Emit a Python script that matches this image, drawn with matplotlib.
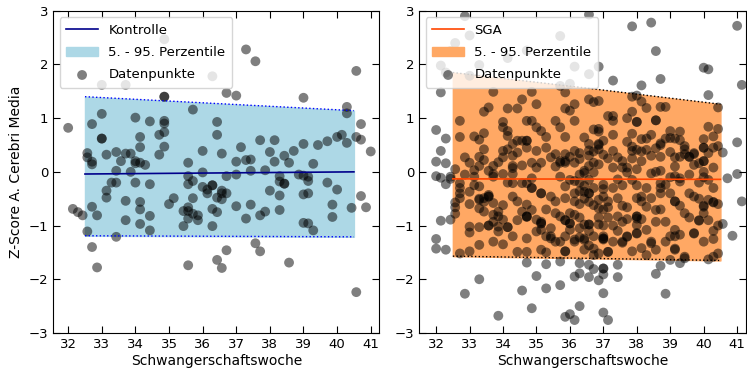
import numpy as np
import matplotlib
matplotlib.use("Agg")
import matplotlib.pyplot as plt

# percentile bands (Schwangerschaftswoche)
band_x = [32.5, 36.5, 40.5]
ctrl_mean = [-0.04, -0.02, 0.0]
ctrl_p5 = [-1.19, -1.20, -1.21]
ctrl_p95 = [1.40, 1.27, 1.14]
sga_mean = [-0.13, -0.135, -0.14]
sga_p5 = [-1.57, -1.61, -1.65]
sga_p95 = [1.85, 1.56, 1.26]

# Kontrolle data points (week, z-score)
ctrl_pts = [
    (32.0, 0.82), (32.14, -0.69), (32.29, -0.75), (32.43, -0.81),
    (32.57, 0.35), (32.57, 0.27), (32.57, -1.11),
    (32.71, 0.89), (32.71, 0.19), (32.71, 0.14), (32.71, -0.65), (32.71, -1.40),
    (32.86, -0.81), (32.86, -1.78),
    (33.0, 1.62), (33.0, 1.08), (33.0, 0.62), (33.0, 0.62),
    (33.14, 0.32), (33.14, -0.35), (33.14, -0.48), (33.29, -0.2),
    (33.43, 0.37), (33.43, 0.02), (33.43, -0.2), (33.43, -1.21), (33.57, 0.2),
    (33.71, 1.62), (33.71, 0.34), (33.71, -0.54), (33.71, -0.9),
    (33.86, 0.34), (33.86, 0.0),
    (34.0, 1.01), (34.0, 0.2), (34.0, 0.16), (34.0, -0.2),
    (34.14, 0.65), (34.14, 0.46), (34.14, 0.17), (34.14, -0.56), (34.14, -0.7), (34.14, -0.97),
    (34.29, 0.13),
    (34.43, 0.94), (34.43, -0.23), (34.43, -0.82), (34.43, -1.09),
    (34.71, 0.69), (34.71, 0.32),
    (34.86, 2.47), (34.86, 1.40), (34.86, 1.40), (34.86, 0.95), (34.86, 0.90), (34.86, 0.74), (34.86, 0.47),
    (35.0, -0.60), (35.14, -0.49), (35.43, -0.73), (35.43, -1.01),
    (35.57, 0.17), (35.57, -0.08), (35.57, -0.23), (35.57, -0.66), (35.57, -0.73), (35.57, -0.87), (35.57, -1.74),
    (35.71, 1.16), (35.71, -0.17), (35.71, -0.49), (35.71, -0.78),
    (35.86, -0.81), (35.86, -0.9),
    (36.0, 0.39), (36.0, -0.01), (36.0, -0.28),
    (36.14, -0.33), (36.14, -0.40),
    (36.29, 1.78), (36.29, -0.25), (36.29, -0.25), (36.29, -0.69), (36.29, -1.01),
    (36.43, 0.93), (36.43, 0.69), (36.43, -0.48), (36.43, -0.75), (36.43, -1.64),
    (36.57, 0.34), (36.57, -0.35), (36.57, -0.4), (36.57, -0.51), (36.57, -1.79),
    (36.71, 1.47), (36.71, -0.08), (36.71, -0.40), (36.71, -1.46),
    (37.0, 1.42), (37.0, 0.19), (37.0, -0.05), (37.0, -0.64),
    (37.14, 0.46),
    (37.29, 2.28), (37.29, 0.22), (37.29, -0.87),
    (37.43, 0.23), (37.43, 0.02), (37.43, -0.61),
    (37.57, 2.06), (37.57, -1.33),
    (37.71, 0.59), (37.71, -0.81), (37.71, -1.48),
    (37.86, 0.03), (37.86, -0.74),
    (38.0, 0.37), (38.0, -0.35),
    (38.14, 0.59), (38.14, 0.19),
    (38.29, -0.08), (38.29, -0.18), (38.29, -0.44), (38.29, -0.71),
    (38.43, 0.3), (38.43, -0.22), (38.43, -0.22),
    (38.57, 0.17), (38.57, -1.69), (38.71, 0.39), (38.86, -0.05),
    (39.0, 1.38), (39.0, 0.52), (39.0, -0.07), (39.0, -0.42), (39.0, -0.95),
    (39.14, -0.09), (39.14, -0.17), (39.14, -0.4), (39.14, -0.96),
    (39.29, 0.15), (39.29, -1.09), (39.43, 0.5),
    (39.71, 0.57), (39.71, -0.2), (39.86, -0.61), (39.86, -0.84),
    (40.0, 0.65), (40.0, -0.33), (40.14, 0.69),
    (40.29, 1.21), (40.29, 1.09), (40.29, 0.54), (40.43, -0.67),
    (40.57, 1.88), (40.57, 0.65), (40.57, -2.24),
    (40.71, 0.89), (40.71, 0.6), (40.71, -0.45), (40.86, -0.66), (41.0, 0.38),
]

# SGA data points (week, z-score)
sga_pts = [
    # outside band, left / top
    (32.0, 0.78), (32.0, 0.19), (32.0, -0.08), (32.0, -1.25), (32.0, -1.43),
    (32.14, 1.48), (32.14, 0.39), (32.14, -0.11), (32.14, -0.91), (32.14, 1.98),
    (32.29, 0.62), (32.29, 0.16), (32.29, -0.23), (32.29, -1.45), (32.29, 1.85),
    (32.43, -0.09), (32.43, -0.13), (32.43, -0.89), (32.43, 2.25),
    (32.57, 2.4), (32.86, 2.9), (33.0, 2.54), (33.0, 1.79), (33.29, 1.99),
    (34.14, 2.12), (34.71, 2.26), (35.71, 2.53), (36.57, 2.93), (36.57, 1.82),
    (36.86, 1.96), (36.14, 1.96), (35.71, 1.6), (36.0, 1.64),
    # outside band, right
    (37.29, 1.70), (37.86, 2.71), (38.43, 2.78), (38.57, 2.25), (38.14, 1.61),
    (38.71, 1.73), (40.0, 1.94), (40.14, 1.91), (40.14, 1.43), (41.0, 2.72),
    (41.14, 1.62), (41.0, 0.55), (41.0, -0.04), (41.14, -0.55), (40.71, -0.12),
    (40.86, -1.19), (40.57, -0.97), (40.57, 0.36), (40.43, 1.2), (40.43, 0.8),
    # outside band, bottom
    (32.86, -2.27), (33.29, -2.0), (33.86, -2.68), (34.57, -2.21), (34.71, -1.69),
    (34.86, -2.54), (35.0, -1.94), (35.29, -2.17), (35.29, -1.72), (35.71, -2.11),
    (35.71, -1.67), (35.86, -2.7), (36.0, -2.65), (36.14, -2.76), (36.14, -1.95),
    (36.29, -1.89), (36.29, -1.70), (36.29, -2.5), (36.57, -1.96), (36.57, -1.73),
    (36.71, -1.81), (36.86, -2.02), (37.0, -1.80), (37.0, -1.80), (37.0, -1.91),
    (37.0, -2.26), (37.0, -2.62), (37.14, -2.76), (37.43, -1.73), (37.43, -1.96),
    (38.57, -1.90), (38.71, -1.75), (38.86, -2.27), (39.0, -1.64), (39.29, -1.7),
    (40.14, -1.63), (40.29, -1.58),
    # inside band, upper half
    (32.71, 0.95), (32.71, 0.65), (33.43, 1.12), (33.57, 1.2), (33.71, 1.49),
    (34.0, 0.93), (34.0, 0.83), (34.14, 1.18), (34.43, 1.18), (34.57, 1.35),
    (34.86, 1.49), (35.0, 1.26), (34.71, 0.95), (34.86, 0.95), (35.0, 0.83),
    (35.14, 0.76), (35.29, 0.65), (35.57, 0.95), (35.71, 0.83), (35.86, 1.18),
    (35.86, 1.48), (36.0, 1.14), (36.14, 1.26), (36.14, 0.95), (35.86, 0.65),
    (33.14, 0.66), (33.29, 0.6), (33.43, 0.72), (34.14, 0.76),
    (34.0, 0.39), (34.0, 0.27), (34.14, 0.42), (34.14, 0.67), (34.29, 0.52),
    (34.29, 0.3), (34.43, 0.58), (34.57, 0.58), (34.71, 0.58), (34.71, 0.58),
    (34.71, 0.45), (34.43, 0.36), (34.29, 0.11), (34.29, -0.04), (34.29, 0.07),
    (33.43, 0.42), (33.29, 0.28), (33.29, 0.11), (33.0, 0.17), (32.86, 0.27),
    (33.71, 0.11), (33.71, -0.04), (33.57, 0.02), (34.86, 0.17), (35.0, 0.39),
    (35.29, 0.45), (35.43, 0.27), (35.57, 0.33), (35.71, 0.17), (35.71, 0.2),
    (35.86, 0.17), (35.86, 0.2), (35.86, 0.33), (36.14, 0.17), (36.14, 0.39),
    (36.29, 0.24),
    (36.57, 1.35), (36.71, 1.30), (36.86, 1.32), (37.86, 1.40), (38.0, 1.42),
    (38.14, 1.31), (38.29, 1.19), (38.71, 1.21), (38.86, 1.21), (37.14, 1.04),
    (37.29, 1.04), (37.29, 0.95), (37.71, 1.0), (37.86, 1.12), (38.0, 0.93),
    (38.0, 0.93), (38.57, 0.96), (38.57, 0.96), (36.71, 0.79), (36.86, 0.75),
    (36.86, 0.8), (37.29, 0.69), (37.86, 0.71), (38.14, 0.61), (39.0, 0.76),
    (40.0, 0.61), (36.43, 0.64), (36.57, 0.52), (36.86, 0.50), (36.86, 0.52),
    (37.0, 0.58), (36.57, 0.40), (36.71, 0.38), (36.86, 0.42), (37.29, 0.39),
    (37.43, 0.27), (37.57, 0.2), (37.86, 0.39), (38.0, 0.41), (38.14, 0.38),
    (38.29, 0.41), (38.71, 0.5), (39.0, 0.63), (39.29, 0.59), (39.43, 0.42),
    (39.71, 0.33), (39.57, 0.28), (40.0, 0.45), (40.0, 0.45), (40.29, 0.45),
    (40.0, 0.2), (40.0, 0.2), (36.71, 0.17), (36.86, 0.14), (36.43, 0.02),
    (36.57, 0.11), (37.29, 0.08), (37.71, 0.08), (38.0, 0.05), (38.71, 0.02),
    (39.14, 0.1), (39.29, 0.75), (39.14, 0.62), (39.71, 0.35), (39.43, 0.48),
    (40.29, 0.66), (40.43, 0.48), (40.14, 0.84), (38.71, 0.53), (38.86, 0.62),
    (38.57, 0.44), (38.29, 0.62), (38.43, 0.69), (37.86, 0.47), (37.71, 0.56),
    (38.71, 0.28), (39.0, 0.37), (39.14, 0.27), (39.29, 0.28), (39.43, 0.33),
    (39.57, 0.28), (39.71, 0.13), (39.86, 0.16), (40.14, 0.35), (40.29, 0.08),
    (38.43, 0.3), (38.14, 0.2), (37.86, 0.25), (37.57, 0.08), (37.14, 0.25),
    (37.0, 0.32), (36.57, 0.3), (36.29, 0.35), (36.0, 0.28), (35.57, 0.1),
    (35.14, 0.17), (35.0, 0.08), (34.57, 0.12), (33.86, 0.18), (33.43, 0.22),
    (33.14, 0.03), (32.86, -0.05), (32.57, 0.05),
    # inside band, lower half left
    (32.71, -0.21), (32.71, -0.30), (32.71, -0.40), (32.71, -0.49), (32.57, -0.57),
    (32.57, -0.66), (32.71, -1.52), (33.0, -0.37), (33.14, -0.09), (33.29, -0.27),
    (33.29, -0.52), (33.43, -0.49), (33.57, -0.46), (33.57, -0.46), (33.29, -0.68),
    (33.43, -0.74), (33.0, -1.13), (33.0, -1.02), (33.29, -1.03), (33.29, -1.36),
    (33.57, -1.0), (33.57, -1.0), (33.71, -0.58), (33.86, -0.74), (33.71, -0.8),
    (33.86, -0.83), (33.71, -0.93), (33.86, -1.02), (34.0, -0.89), (34.14, -1.03),
    (34.14, -1.03), (33.71, -1.3), (33.86, -1.11), (33.71, -0.09), (34.0, -0.04),
    (34.14, -0.2), (34.29, -0.21), (34.29, -0.46), (34.43, -0.55), (34.57, -0.21),
    (34.71, -0.21), (34.86, -0.3), (34.86, -0.3), (35.14, -0.4), (35.14, -0.4),
    (35.43, -0.46), (34.71, -0.61), (34.71, -0.83), (34.71, -0.83), (34.57, -0.74),
    (34.86, -0.71), (35.0, -0.89), (35.14, -0.96), (35.14, -0.96), (35.0, -1.11),
    (34.71, -1.24), (34.71, -1.49), (34.43, -1.49), (35.14, -1.45), (35.29, -1.2),
    (35.43, -1.05), (35.43, -1.2), (35.57, -1.3), (35.57, -0.77), (35.71, -0.83),
    (35.86, -0.9), (35.86, -0.9), (36.0, -0.77), (36.0, -0.96), (36.0, -0.96),
    (36.0, -1.08), (35.86, -1.2), (35.71, -1.3), (36.14, -1.3), (35.86, -1.48),
    (35.86, -1.48), (35.86, -0.49), (36.14, -0.4), (35.86, -0.27), (35.71, -0.09),
    (36.0, -0.15), (34.86, -0.12), (33.14, -0.25), (33.29, -0.5), (33.43, -0.56),
    (33.57, -0.43), (34.71, -0.84), (35.14, -0.93), (35.14, -1.08), (35.43, -1.24),
    (32.57, -0.78), (33.0, -0.6), (34.0, -0.62), (34.43, -0.9), (34.29, -1.2),
    (35.29, -0.7), (35.57, -0.55), (34.0, -1.35), (33.0, -1.48), (35.29, -1.5),
    # inside band, lower half centre / right
    (36.14, -1.26), (36.29, -1.22), (36.43, -1.27), (36.57, -1.37), (36.71, -1.43),
    (37.0, -1.2), (37.0, -1.26), (36.86, -1.52), (37.14, -1.49), (37.57, -1.32),
    (37.71, -1.21), (38.0, -1.15), (38.0, -0.87), (38.43, -1.33), (38.57, -0.93),
    (39.14, -1.43), (39.43, -1.61), (39.71, -1.15), (40.29, -0.56), (39.86, -0.9),
    (40.0, -0.65), (40.43, -1.52), (40.14, -0.9), (40.29, -1.1),
    (36.14, -0.17), (36.29, -0.2), (36.29, -0.36), (36.43, -0.26), (36.14, -0.55),
    (36.29, -0.6), (36.43, -0.37), (36.57, -0.4), (36.57, -0.4), (36.43, -0.5),
    (36.57, -0.56), (36.71, -0.62), (36.86, -0.68), (37.0, -0.70), (37.14, -0.66),
    (36.43, -0.98), (36.57, -0.98), (36.57, -0.98), (36.86, -0.98), (37.0, -1.0),
    (36.71, -1.2), (36.43, -1.24), (37.0, -1.24), (37.0, -1.24), (36.43, -1.45),
    (36.71, -1.55), (37.14, -1.49), (36.43, -0.02), (36.71, -0.01), (37.0, -0.24),
    (37.0, -0.32), (37.0, -0.46), (37.29, -0.3), (37.14, -0.55), (37.43, -0.14),
    (37.71, -0.01), (36.14, -0.8), (36.29, -0.85), (36.29, -1.05), (36.57, -1.1),
    (36.86, -0.85), (37.14, -0.85), (36.86, -0.52), (36.71, -0.3), (36.57, -0.15),
    (36.29, -0.05),
    (37.43, -0.49), (37.57, -0.63), (37.71, -0.66), (37.43, -0.83), (37.57, -0.93),
    (37.71, -0.88), (38.0, -0.83), (38.0, -0.83), (38.14, -0.88), (38.0, -1.14),
    (37.57, -1.3), (37.71, -1.2), (37.86, -1.48), (38.0, -0.99), (38.14, -1.42),
    (38.29, -1.08), (38.43, -1.3), (38.86, -0.93), (39.0, -1.2), (39.14, -1.2),
    (39.29, -1.17), (39.14, -1.08), (39.14, -1.45), (39.43, -1.58), (39.71, -1.14),
    (39.86, -0.91), (40.0, -0.77), (40.0, -0.63), (39.57, -0.4), (39.71, -0.46),
    (39.86, -0.5), (40.14, -0.52), (40.29, -0.57), (39.14, -0.55), (39.14, -0.55),
    (39.29, -0.63), (39.43, -0.77), (38.71, -0.7), (38.57, -0.71), (38.43, -0.49),
    (38.14, -0.46), (38.14, -0.55), (38.0, -0.49), (38.29, -0.65), (39.0, -0.4),
    (38.71, -0.21), (38.71, -0.30), (38.71, -0.40), (38.86, -0.24), (38.43, -0.03),
    (38.57, 0.0), (39.0, -0.1), (39.14, -0.08), (39.29, -0.18), (39.29, -0.12),
    (40.0, -0.1), (40.0, 0.0), (37.86, -0.15), (38.0, -0.25), (37.57, -0.25),
    (38.29, -0.3), (39.57, -0.05), (39.86, -0.2), (40.14, -0.15), (40.29, -0.3),
    (40.43, -0.6), (40.43, -1.0), (40.29, -1.25), (40.0, -1.3), (39.57, -0.85),
    (38.86, -1.3), (38.57, -1.45), (38.29, -1.55), (37.29, -1.0), (37.43, -1.1),
    (37.29, -1.3),
]

ctrl_x, ctrl_y = zip(*ctrl_pts)
sga_x, sga_y = zip(*sga_pts)

fig = plt.figure(figsize=(7.47, 3.72), dpi=100)
ax1 = fig.add_axes([0.071, 0.105, 0.437, 0.866])
ax2 = fig.add_axes([0.561, 0.105, 0.437, 0.866])

panels = [
    (ax1, "Kontrolle", ctrl_mean, ctrl_p5, ctrl_p95, ctrl_x, ctrl_y,
     "darkblue", "lightblue", "blue", (31.55, 41.26)),
    (ax2, "SGA", sga_mean, sga_p5, sga_p95, sga_x, sga_y,
     "orangered", "#FFA864", "black", (31.49, 41.25)),
]

for ax, name, mean, p5, p95, xs, ys, lc, fc, ec, xlim in panels:
    ax.plot(band_x, mean, color=lc, lw=1.2, label=name)
    ax.fill_between(band_x, p5, p95, color=fc, label="5. - 95. Perzentile")
    ax.plot(band_x, p95, color=ec, ls=":", lw=1.0)
    ax.plot(band_x, p5, color=ec, ls=":", lw=1.0)
    ax.scatter(xs, ys, s=50, color="black", alpha=0.5, edgecolors="none",
               label="Datenpunkte")
    ax.set_xlim(*xlim)
    ax.set_ylim(-3, 3)
    ax.set_xticks(range(32, 42))
    ax.set_yticks(range(-3, 4))
    ax.tick_params(direction="in", top=True, right=True, length=5, labelsize=9.5)
    ax.set_xlabel("Schwangerschaftswoche", fontsize=10, labelpad=2)
    ax.legend(loc="upper left", fontsize=9.5, handlelength=2.4,
              labelspacing=0.7, borderpad=0.5)

ax1.set_ylabel("Z-Score A. Cerebri Media", fontsize=10)

fig.savefig("out.png", dpi=100)
